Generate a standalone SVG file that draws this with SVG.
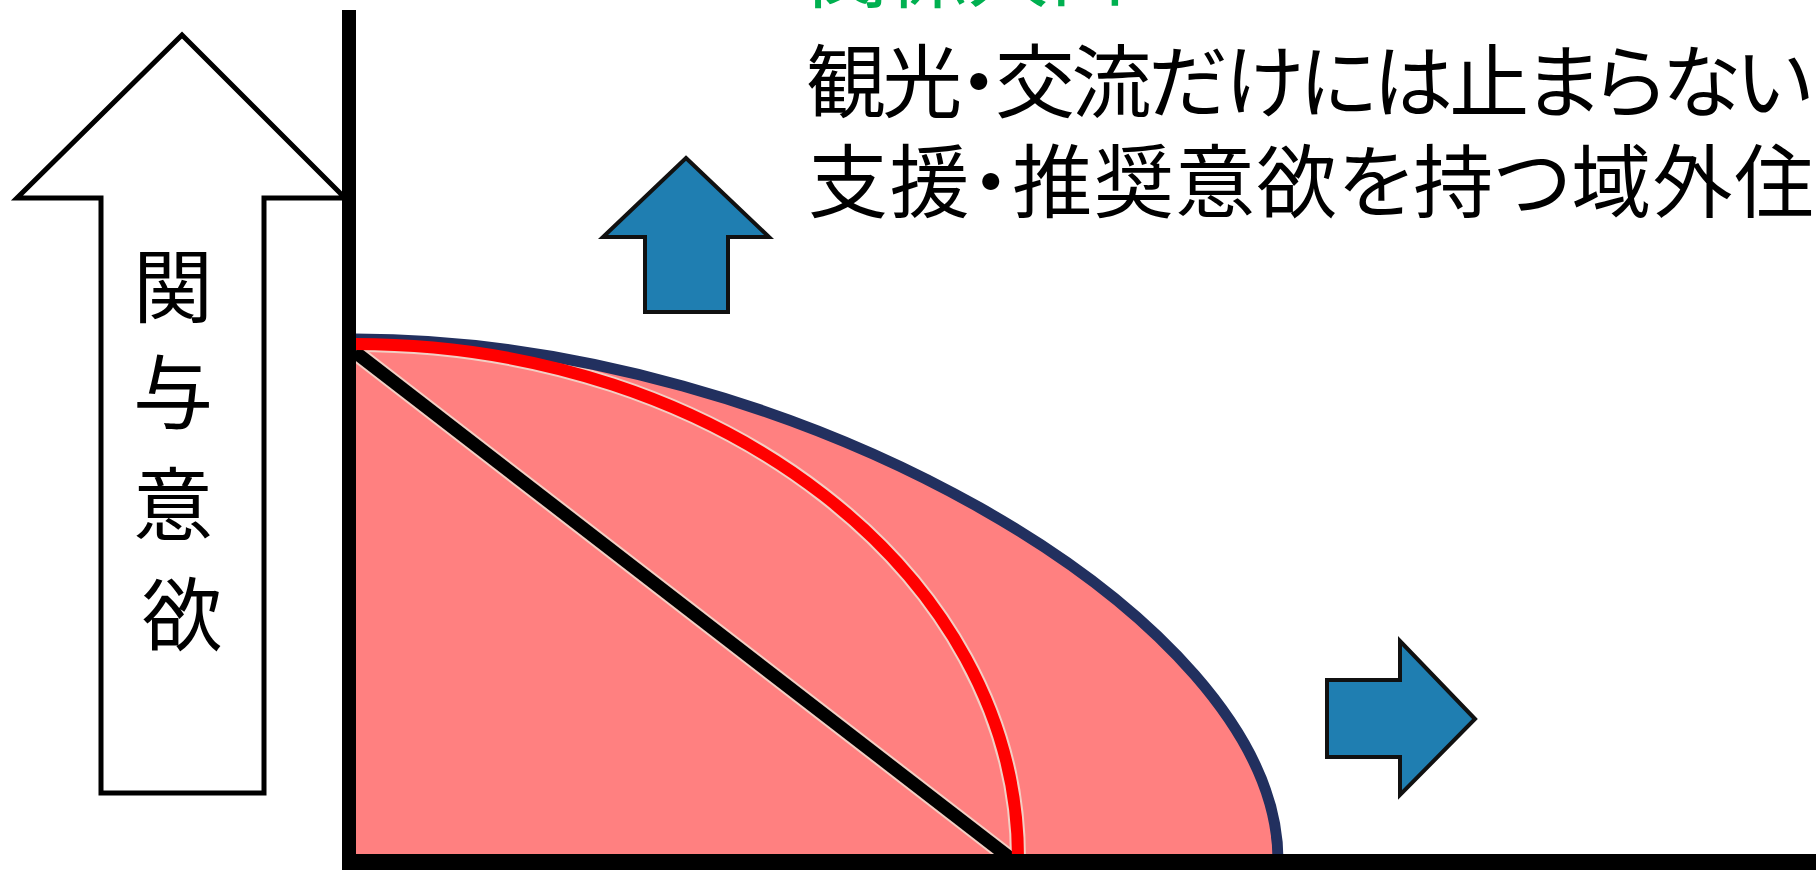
<svg xmlns="http://www.w3.org/2000/svg" width="1816" height="870" viewBox="0 0 1816 870">
  <style>
    .jp { font-family: "Noto Sans CJK JP", "Noto Sans CJK SC", sans-serif; }
    .blk { fill: #000; }
    .label { font-size: 80px; font-feature-settings: "palt"; }
    .vlabel { font-size: 80px; text-anchor: middle; }
    .blue-arrow { fill: #1f7eb1; stroke: #111; stroke-width: 4; stroke-linejoin: miter; }
    .edge { fill: none; stroke: #f3cfc4; stroke-linecap: butt; }
  </style>
  <rect x="0" y="0" width="1816" height="870" fill="#ffffff"/>

  <g id="region">
    <path d="M 355 339 C 790 339 1278 615 1278 860 L 355 860 Z" fill="#ff8080"/>
  </g>

  <g id="curves">
    <path class="edge" d="M 355 352 L 1010 858" stroke-width="17"/>
    <path class="edge" d="M 355 344 C 720 344 1018 575 1018 858" stroke-width="16"/>
    <path id="outer-arc" d="M 355 339 C 790 339 1278 615 1278 860" fill="none" stroke="#22305f" stroke-width="11"/>
    <path id="diagonal" d="M 355 352 L 1010 858" fill="none" stroke="#000" stroke-width="13"/>
    <path id="inner-arc" d="M 355 344 C 720 344 1018 575 1018 858" fill="none" stroke="#ff0000" stroke-width="12"/>
  </g>

  <g id="axes">
    <rect x="342" y="10" width="14" height="860" fill="#000"/>
    <rect x="342" y="854" width="1474" height="16" fill="#000"/>
  </g>

  <g id="axis-arrow">
    <path d="M 182 35 L 345 198 L 264 198 L 264 793 L 101 793 L 101 198 L 17 198 Z" fill="#fff" stroke="#000" stroke-width="5" stroke-linejoin="miter"/>
    <text class="jp blk vlabel" x="182">
      <tspan x="182" y="316">関</tspan>
      <tspan x="182" y="422">与</tspan>
      <tspan x="182" y="534">意</tspan>
      <tspan x="182" y="644">欲</tspan>
    </text>
  </g>

  <g id="up-arrow">
    <path class="blue-arrow" d="M 686 158 L 769 237 L 728 237 L 728 312 L 645 312 L 645 237 L 603 237 Z"/>
  </g>

  <g id="right-arrow">
    <path class="blue-arrow" d="M 1475 719 L 1400 641 L 1400 680 L 1327 680 L 1327 757 L 1400 757 L 1400 795 Z"/>
  </g>

  <g id="heading">
    <text class="jp label" x="808" y="1" fill="#00b050">関係人口</text>
    <text class="jp blk label" x="806" y="111" textLength="1006" lengthAdjust="spacing">観光・交流だけには止まらない</text>
    <text class="jp blk label" x="808" y="211" textLength="1006" lengthAdjust="spacing">支援・推奨意欲を持つ域外住</text>
  </g>
</svg>
